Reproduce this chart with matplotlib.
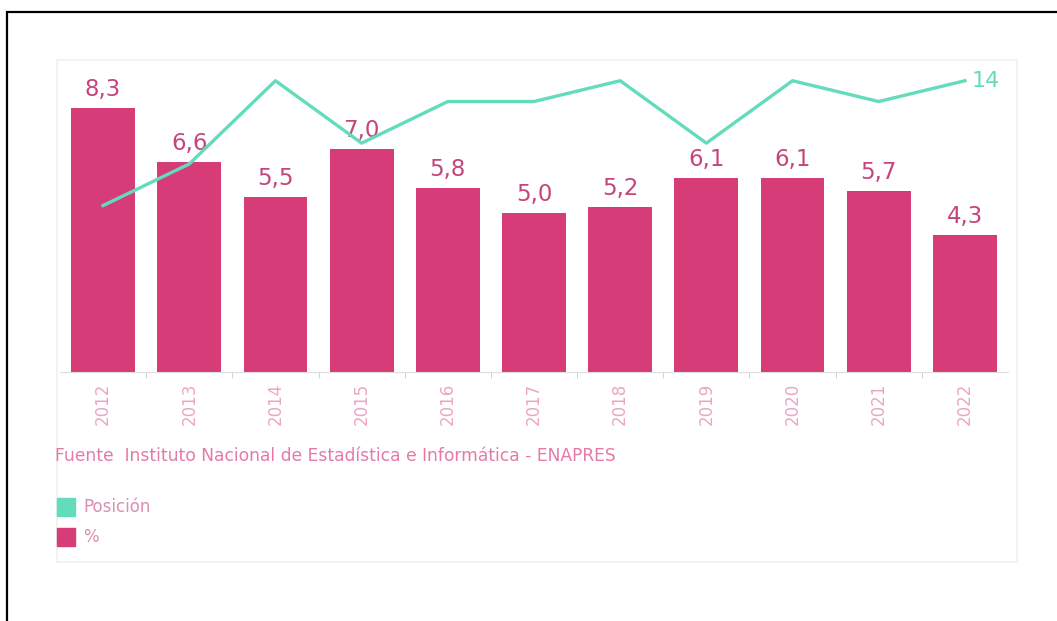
import numpy as np
import matplotlib.pyplot as plt
from matplotlib.patches import Rectangle

years = ['2012', '2013', '2014', '2015', '2016', '2017', '2018', '2019', '2020', '2021', '2022']
pct = [8.3, 6.6, 5.5, 7.0, 5.8, 5.0, 5.2, 6.1, 6.1, 5.7, 4.3]
posicion = [8, 10, 14, 11, 13, 13, 14, 11, 14, 13, 14]
pct_labels = ['8,3', '6,6', '5,5', '7,0', '5,8', '5,0', '5,2', '6,1', '6,1', '5,7', '4,3']

bar_color = '#d63c78'
line_color = '#63dbbd'
label_color = '#c4457c'
W, H = 1057, 621

fig = plt.figure(figsize=(W / 100, H / 100), dpi=100)

# outer black frame (right/bottom run off the picture)
fig.patches.append(Rectangle((7 / W, -0.1), 1.2, (H - 12) / H + 0.1, transform=fig.transFigure,
                             fill=False, edgecolor='black', linewidth=1.6))
# faint inner frame of the chart
fig.patches.append(Rectangle((57 / W, (H - 562) / H), 960 / W, 502 / H, transform=fig.transFigure,
                             fill=False, edgecolor='#f0f0f0', linewidth=1.2))

ax = fig.add_axes([60 / W, (H - 372) / H, 948 / W, 310 / H])
x = np.arange(len(years))
ax.bar(x, pct, width=0.74, color=bar_color, zorder=2)
for xi, v, lab in zip(x, pct, pct_labels):
    ax.annotate(lab, (xi, v), xytext=(0, 5), textcoords='offset points', ha='center', va='bottom',
                fontsize=16.5, color=label_color, zorder=4)

ax.set_xlim(-0.5, len(years) - 0.5)
ax.set_ylim(0, 9.75)
ax.set_yticks([])
ax.set_xticks(x)
ax.set_xticklabels(years, rotation=90, fontsize=12, color='#eba6c4')
ax.set_xticks(x[:-1] + 0.5, minor=True)
ax.tick_params(axis='x', which='major', length=0, pad=8)
ax.tick_params(axis='x', which='minor', length=4, color='#cccccc')
for s in ['top', 'left', 'right']:
    ax.spines[s].set_visible(False)
ax.spines['bottom'].set_color('#dddddd')

ax2 = ax.twinx()
ax2.plot(x, posicion, color=line_color, linewidth=2.4, zorder=3)
ax2.set_ylim(0, 14.9)
ax2.set_yticks([])
for s in ax2.spines.values():
    s.set_visible(False)
ax2.annotate(str(posicion[-1]), (x[-1], posicion[-1]), xytext=(5, 0), textcoords='offset points',
             ha='left', va='center', fontsize=16, color=line_color)

fig.text(55 / W, 1 - 456 / H, 'Fuente  Instituto Nacional de Estadística e Informática - ENAPRES',
         fontsize=12.3, color='#e57aa6', va='center', ha='left')

# legend
fig.patches.append(Rectangle((57 / W, 1 - 516 / H), 18 / W, 18 / H, transform=fig.transFigure,
                             color=line_color))
fig.patches.append(Rectangle((57 / W, 1 - 546 / H), 18 / W, 18 / H, transform=fig.transFigure,
                             color=bar_color))
fig.text(83 / W, 1 - 507 / H, 'Posición', fontsize=12, color='#d98fb0', va='center', ha='left')
fig.text(83 / W, 1 - 537 / H, '%', fontsize=12, color='#d98fb0', va='center', ha='left')

fig.savefig('out.png', dpi=100)
